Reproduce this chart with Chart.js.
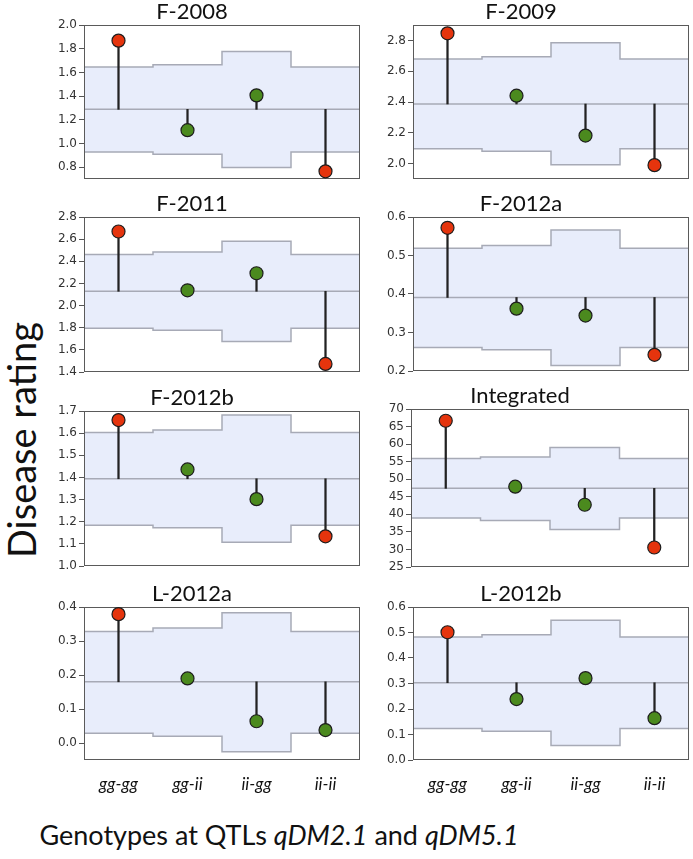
<!DOCTYPE html>
<html>
<head>
<meta charset="utf-8">
<script src="https://cdn.jsdelivr.net/npm/chart.js@4.4.1/dist/chart.umd.min.js"></script>
<style>
  body { margin: 0; background: #fff; width: 693px; height: 859px; position: relative; overflow: hidden; font-family: Lato, sans-serif; color: #111; }
  canvas { position: absolute; }
  #ylab { position: absolute; left: 21px; top: 440px; transform: translate(-50%, -50%) rotate(-90deg); font-size: 38px; white-space: nowrap; }
  #xlab { position: absolute; left: 279px; top: 834px; transform: translate(-50%, -50%); font-size: 27px; white-space: nowrap; }
</style>
</head>
<body>
<div id="ylab">Disease rating</div>
<div id="xlab">Genotypes at QTLs <i>qDM2.1</i> and <i>qDM5.1</i></div>
<script>
const genotypes = ['gg-gg', 'gg-ii', 'ii-gg', 'ii-ii'];

// F-2008
const f2008Means = [1.868, 1.112, 1.406, 0.765];
const f2008Upper = [1.645, 1.664, 1.776, 1.645];
const f2008Lower = [0.927, 0.908, 0.797, 0.927];
const f2008Center = 1.288;
const f2008Ticks = [0.8, 1.0, 1.2, 1.4, 1.6, 1.8, 2.0];

// F-2009
const f2009Means = [2.846, 2.441, 2.182, 1.99];
const f2009Upper = [2.679, 2.694, 2.785, 2.679];
const f2009Lower = [2.097, 2.08, 1.992, 2.097];
const f2009Center = 2.387;
const f2009Ticks = [2.0, 2.2, 2.4, 2.6, 2.8];

// F-2011
const f2011Means = [2.669, 2.138, 2.292, 1.473];
const f2011Upper = [2.461, 2.483, 2.582, 2.461];
const f2011Lower = [1.796, 1.778, 1.676, 1.796];
const f2011Center = 2.129;
const f2011Ticks = [1.4, 1.6, 1.8, 2.0, 2.2, 2.4, 2.6, 2.8];

// F-2012a
const f2012aMeans = [0.572, 0.362, 0.344, 0.242];
const f2012aUpper = [0.519, 0.526, 0.566, 0.519];
const f2012aLower = [0.261, 0.255, 0.214, 0.261];
const f2012aCenter = 0.391;
const f2012aTicks = [0.2, 0.3, 0.4, 0.5, 0.6];

// F-2012b
const f2012bMeans = [1.659, 1.436, 1.302, 1.134];
const f2012bUpper = [1.603, 1.614, 1.682, 1.603];
const f2012bLower = [1.184, 1.173, 1.107, 1.184];
const f2012bCenter = 1.394;
const f2012bTicks = [1.0, 1.1, 1.2, 1.3, 1.4, 1.5, 1.6, 1.7];

// Integrated
const integratedMeans = [66.65, 47.88, 42.73, 30.55];
const integratedUpper = [55.88, 56.36, 59.02, 55.88];
const integratedLower = [38.93, 38.27, 35.7, 38.93];
const integratedCenter = 47.4;
const integratedTicks = [25, 30, 35, 40, 45, 50, 55, 60, 65, 70];

// L-2012a
const l2012aMeans = [0.379, 0.19, 0.064, 0.038];
const l2012aUpper = [0.328, 0.338, 0.383, 0.328];
const l2012aLower = [0.029, 0.02, -0.026, 0.029];
const l2012aCenter = 0.18;
const l2012aTicks = [0.0, 0.1, 0.2, 0.3, 0.4];

// L-2012b
const l2012bMeans = [0.501, 0.239, 0.321, 0.164];
const l2012bUpper = [0.482, 0.491, 0.548, 0.482];
const l2012bLower = [0.124, 0.113, 0.057, 0.124];
const l2012bCenter = 0.303;
const l2012bTicks = [0.0, 0.1, 0.2, 0.3, 0.4, 0.5, 0.6];

const RED = '#e5340d';
const GREEN = '#4b8a1e';
const BAND = '#e8edfb';
const LIMIT = '#a7aab6';

// plot box [left, top, right, bottom] in page pixels
const panels = [
    { title: 'F-2008', means: f2008Means, upper: f2008Upper, lower: f2008Lower, center: f2008Center, ticks: f2008Ticks, min: 0.7, max: 2.0, dec: 1, box: [84, 25, 360, 179] },
    { title: 'F-2009', means: f2009Means, upper: f2009Upper, lower: f2009Lower, center: f2009Center, ticks: f2009Ticks, min: 1.9, max: 2.9, dec: 1, box: [413, 25, 689, 179] },
    { title: 'F-2011', means: f2011Means, upper: f2011Upper, lower: f2011Lower, center: f2011Center, ticks: f2011Ticks, min: 1.4, max: 2.8, dec: 1, box: [84, 217, 360, 372] },
    { title: 'F-2012a', means: f2012aMeans, upper: f2012aUpper, lower: f2012aLower, center: f2012aCenter, ticks: f2012aTicks, min: 0.2, max: 0.6, dec: 1, box: [413, 217, 689, 371] },
    { title: 'F-2012b', means: f2012bMeans, upper: f2012bUpper, lower: f2012bLower, center: f2012bCenter, ticks: f2012bTicks, min: 1.0, max: 1.7, dec: 1, box: [84, 411, 360, 566] },
    { title: 'Integrated', means: integratedMeans, upper: integratedUpper, lower: integratedLower, center: integratedCenter, ticks: integratedTicks, min: 25, max: 70, dec: 0, box: [411, 409, 689, 567] },
    { title: 'L-2012a', means: l2012aMeans, upper: l2012aUpper, lower: l2012aLower, center: l2012aCenter, ticks: l2012aTicks, min: -0.05, max: 0.4, dec: 1, box: [84, 607, 360, 760], showX: true },
    { title: 'L-2012b', means: l2012bMeans, upper: l2012bUpper, lower: l2012bLower, center: l2012bCenter, ticks: l2012bTicks, min: 0.0, max: 0.6, dec: 1, box: [413, 607, 689, 760], showX: true },
];

const Y_W = 60, TITLE_H = 25, RIGHT_PAD = 48;

// step line through the four groups, each group one unit wide
function steps(limits) {
    const pts = limits.map((v, i) => ({ x: i + 0.5, y: v }));
    pts.push({ x: limits.length + 0.5, y: limits[limits.length - 1] });
    return pts;
}

const framePlugin = {
    id: 'frame',
    afterDatasetDraw(chart, args) {
        if (args.index !== 2) return;
        const a = chart.chartArea;
        const ctx = chart.ctx;
        ctx.save();
        ctx.strokeStyle = '#5a5a5a';
        ctx.lineWidth = 1;
        ctx.strokeRect(Math.round(a.left) + 0.5, Math.round(a.top) + 0.5, Math.round(a.right - a.left) - 1, Math.round(a.bottom - a.top) - 1);
        ctx.restore();
    },
};

function drawPanel(p) {
    const [l, t, r, b] = p.box;
    const canvas = document.createElement('canvas');
    const w = Y_W + (r - l) + RIGHT_PAD;
    const h = TITLE_H + (b - t) + (p.showX ? 40 : 10);
    canvas.width = w;
    canvas.height = h;
    canvas.style.left = (l - Y_W) + 'px';
    canvas.style.top = (t - TITLE_H) + 'px';
    canvas.style.width = w + 'px';
    canvas.style.height = h + 'px';
    document.body.appendChild(canvas);

    const outside = p.means.map((m, i) => m > p.upper[i] || m < p.lower[i]);

    new Chart(canvas.getContext('2d'), {
        type: 'line',
        data: {
            datasets: [
                {
                    data: p.means.map((m, i) => ({ x: i + 1, y: m })),
                    showLine: false,
                    pointRadius: 6.5,
                    pointBorderWidth: 1.2,
                    pointBorderColor: '#1d1d1d',
                    pointBackgroundColor: outside.map((o) => (o ? RED : GREEN)),
                    order: 0,
                },
                {
                    type: 'bar',
                    data: p.means.map((m, i) => ({ x: i + 1, y: [p.center, m] })),
                    backgroundColor: '#222',
                    barThickness: 1.6,
                    borderWidth: 0,
                    order: 1,
                },
                {
                    data: [{ x: 0.5, y: p.center }, { x: 4.5, y: p.center }],
                    borderColor: LIMIT,
                    borderWidth: 1.5,
                    pointRadius: 0,
                    order: 2,
                },
                {
                    data: steps(p.upper),
                    stepped: true,
                    borderColor: LIMIT,
                    borderWidth: 1.5,
                    pointRadius: 0,
                    backgroundColor: BAND,
                    fill: '+1',
                    order: 3,
                },
                {
                    data: steps(p.lower),
                    stepped: true,
                    borderColor: LIMIT,
                    borderWidth: 1.5,
                    pointRadius: 0,
                    fill: false,
                    order: 4,
                },
            ],
        },
        options: {
            responsive: false,
            animation: false,
            devicePixelRatio: 1,
            layout: { padding: { top: 0, left: 0, right: RIGHT_PAD, bottom: p.showX ? 0 : 10 } },
            plugins: {
                legend: { display: false },
                tooltip: { enabled: false },
                filler: { drawTime: 'beforeDatasetsDraw' },
                title: {
                    display: true,
                    text: p.title,
                    color: '#111',
                    font: { family: 'Lato', size: 22, weight: 'normal', lineHeight: 24 / 22 },
                    padding: { top: 0, bottom: 1 },
                },
            },
            scales: {
                x: {
                    type: 'linear',
                    min: 0.5,
                    max: 4.5,
                    offset: false,
                    display: !!p.showX,
                    grid: { display: false },
                    border: { display: false },
                    afterBuildTicks: (s) => { s.ticks = genotypes.map((g, i) => ({ value: i + 1 })); },
                    afterFit: (s) => { s.height = p.showX ? 40 : 0; },
                    ticks: {
                        padding: 6,
                        color: '#111',
                        font: { family: 'Lato', size: 17, style: 'italic' },
                        maxRotation: 0,
                        autoSkip: false,
                        callback: (v) => genotypes[Math.round(v) - 1] || '',
                    },
                },
                y: {
                    min: p.min,
                    max: p.max,
                    grid: { drawOnChartArea: false, drawTicks: true, tickLength: 5, color: '#555' },
                    border: { display: false },
                    afterBuildTicks: (s) => { s.ticks = p.ticks.map((v) => ({ value: v })); },
                    afterFit: (s) => { s.width = Y_W; },
                    ticks: {
                        padding: 2,
                        autoSkip: false,
                        color: '#333',
                        font: { family: 'DejaVu Sans', size: 12 },
                        callback: (v) => Number(v).toFixed(p.dec),
                    },
                },
            },
        },
        plugins: [framePlugin],
    });
}

panels.forEach(drawPanel);
</script>
</body>
</html>
